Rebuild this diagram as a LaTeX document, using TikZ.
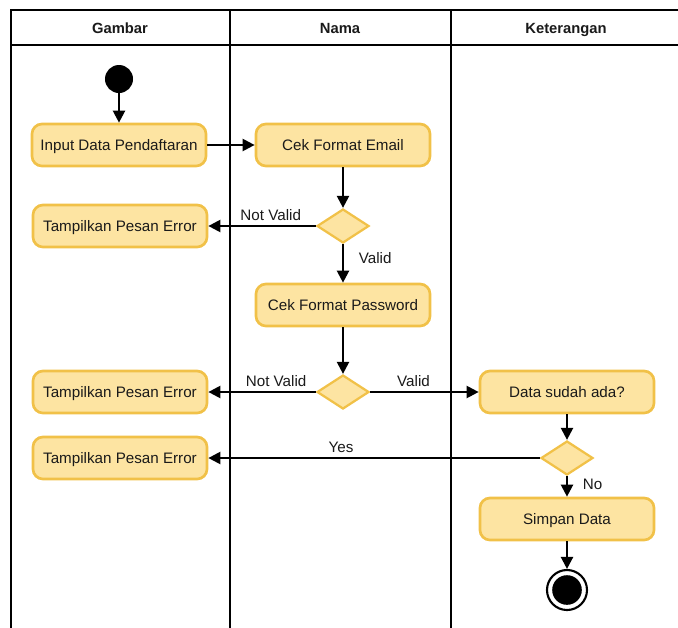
\documentclass[tikz,border=0pt]{standalone}
\usepackage{fontspec}
\setmainfont{Liberation Sans}
\usetikzlibrary{arrows.meta,shapes.geometric}
\definecolor{boxfill}{RGB}{253,228,162}
\definecolor{boxline}{RGB}{241,193,72}
\definecolor{ink}{RGB}{26,26,26}

\begin{document}
\begin{tikzpicture}[
    x=0.025cm, y=-0.025cm,
    font=\fontsize{10.8pt}{13pt}\selectfont, text=ink,
    lane/.style={line width=2.1pt, line cap=rect},
    head/.style={font=\bfseries\fontsize{10.5pt}{12pt}\selectfont, text height=7.6pt, text depth=0pt},
    act/.style={rectangle, rounded corners=0.25cm, draw=boxline, fill=boxfill,
        line width=1.9pt, minimum width=4.35cm, minimum height=1.05cm, inner sep=2pt,
        text height=7.8pt, text depth=0pt},
    dec/.style={diamond, draw=boxline, fill=boxfill, line width=1.6pt,
        minimum width=1.3cm, minimum height=0.85cm, inner sep=0pt},
    startnode/.style={circle, fill=black, minimum size=0.7cm, inner sep=0pt},
    endnode/.style={circle, draw=black, line width=1.5pt, minimum size=1cm, inner sep=0pt,
        path picture={\fill[black] (path picture bounding box.center) circle (0.37cm);}},
    flow/.style={line width=1.6pt, -{Triangle[length=8.5pt,width=8.5pt]}},
    lbl/.style={font=\fontsize{10.8pt}{13pt}\selectfont, text height=7.8pt, text depth=0pt}
]
\useasboundingbox (0,0) rectangle (678,627);
\begin{scope}
\clip (0,0) rectangle (678,627);
% swimlanes
\draw[lane] (11,10) -- (700,10);
\draw[lane] (11,45) -- (700,45);
\foreach \x in {11,230,451}{
    \draw[lane] (\x,10) -- (\x,640);
}
\end{scope}
\node[head] (h1) at (120,28) {Gambar};
\node[head] (h2) at (340,28) {Nama};
\node[head] (h3) at (566,28) {Keterangan};

% nodes
\node[startnode] (start) at (119,79) {};
\node[act] (input) at (119,145) {Input Data Pendaftaran};
\node[act] (cekemail) at (343,145) {Cek Format Email};
\node[dec] (dec1) at (343,226) {};
\node[act] (err1) at (120,226) {Tampilkan Pesan Error};
\node[act] (cekpass) at (343,305) {Cek Format Password};
\node[dec] (dec2) at (343,392) {};
\node[act] (err2) at (120,392) {Tampilkan Pesan Error};
\node[act] (cekdata) at (567,392) {Data sudah ada?};
\node[dec] (dec3) at (567,458) {};
\node[act] (err3) at (120,458) {Tampilkan Pesan Error};
\node[act] (simpan) at (567,519) {Simpan Data};
\node[endnode] (end) at (567,590) {};

% flows
\draw[flow] (start) -- (input);
\draw[flow] (input) -- (cekemail);
\draw[flow] (cekemail) -- (dec1);
\draw[flow] (dec1.west) -- node[lbl, above, pos=0.42] {Not Valid} (err1.east);
\draw[flow] (dec1.south) -- node[lbl, right, pos=0.35, xshift=0.25cm] {Valid} (cekpass.north);
\draw[flow] (cekpass) -- (dec2);
\draw[flow] (dec2.west) -- node[lbl, above, pos=0.37] {Not Valid} (err2.east);
\draw[flow] (dec2.east) -- node[lbl, above, pos=0.4] {Valid} (cekdata.west);
\draw[flow] (cekdata) -- (dec3);
\draw[flow] (dec3.west) -- node[lbl, above, pos=0.6] {Yes} (err3.east);
\draw[flow] (dec3.south) -- node[lbl, right, pos=0.4, xshift=0.25cm] {No} (simpan.north);
\draw[flow] (simpan) -- (end);
\end{tikzpicture}
\end{document}
